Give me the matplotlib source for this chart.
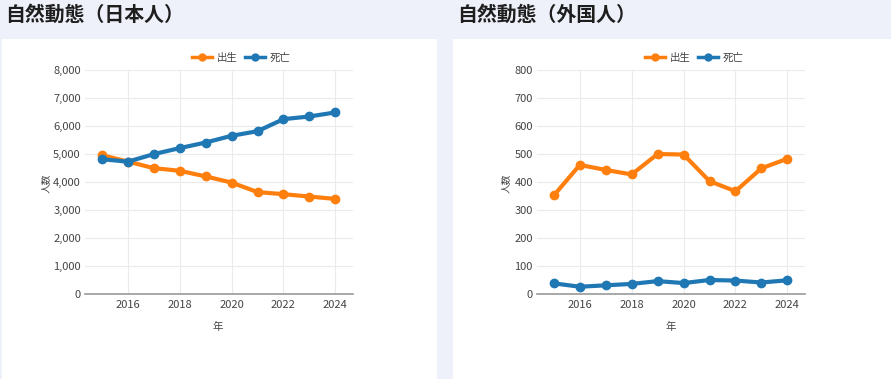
import matplotlib
matplotlib.use("Agg")
import matplotlib.pyplot as plt
from matplotlib.patches import Rectangle
from matplotlib.lines import Line2D

plt.rcParams['font.family'] = ['Noto Sans CJK JP', 'DejaVu Sans']

years = [2015, 2016, 2017, 2018, 2019, 2020, 2021, 2022, 2023, 2024]
jp_births = [4960, 4730, 4495, 4400, 4200, 3980, 3640, 3565, 3480, 3395]
jp_deaths = [4815, 4725, 4995, 5210, 5410, 5650, 5815, 6245, 6340, 6485]
fr_births = [352, 461, 443, 427, 500, 498, 403, 367, 449, 483]
fr_deaths = [38, 26, 31, 36, 46, 39, 50, 48, 41, 49]

titles = ['自然動態（日本人）', '自然動態（外国人）']
series_names = ['出生', '死亡']
xlabel = '年'
ylabel = '人数'
x_ticks = [2016, 2018, 2020, 2022, 2024]
jp_yticks = list(range(0, 8001, 1000))
fr_yticks = list(range(0, 801, 100))

ORANGE = '#ff7f0e'
BLUE = '#1f77b4'
BG = '#eef1f9'
W, H = 891, 379

fig = plt.figure(figsize=(W / 100, H / 100), dpi=100)
fig.patch.set_facecolor(BG)

def px(x, y):
    return x / W, 1 - y / H

# white panels
for (x0, x1) in [(2, 437), (453, 891)]:
    fig.patches.append(Rectangle((x0 / W, 0), (x1 - x0) / W, 1 - 39 / H,
                                 transform=fig.transFigure, facecolor='white',
                                 edgecolor='none', zorder=-5))

panels = [
    dict(title=titles[0], tx=5, ax=(85, 353), b=jp_births, d=jp_deaths,
         yt=jp_yticks, ymax=8000, fmt=lambda v: f'{v:,}', leg=241, ylx=46, xlx=218),
    dict(title=titles[1], tx=457, ax=(537, 805), b=fr_births, d=fr_deaths,
         yt=fr_yticks, ymax=800, fmt=lambda v: f'{v}', leg=694, ylx=506, xlx=671),
]

for p in panels:
    fig.text(p['tx'] / W, 1 - 14.5 / H, p['title'], fontsize=14.3, fontweight='bold',
             color='#1e1e1e', ha='left', va='center')
    x0, x1 = p['ax']
    ax = fig.add_axes([x0 / W, (H - 294) / H, (x1 - x0) / W, (294 - 70) / H])
    ax.set_zorder(2)
    ax.patch.set_alpha(0)
    ax.set_xlim(2014.35, 2024.68)
    ax.set_ylim(0, p['ymax'])
    ax.set_xticks(x_ticks)
    ax.set_xticklabels([str(t) for t in x_ticks])
    ax.set_yticks(p['yt'])
    ax.set_yticklabels([p['fmt'](v) for v in p['yt']])
    ax.grid(True, color='#ebebeb', linewidth=0.8)
    ax.set_axisbelow(True)
    for s in ['top', 'right', 'left']:
        ax.spines[s].set_visible(False)
    ax.spines['bottom'].set_color('#9a9a9a')
    ax.spines['bottom'].set_linewidth(1.2)
    ax.tick_params(axis='both', length=0, labelsize=8, colors='#444444')
    ax.tick_params(axis='x', pad=4)
    ax.tick_params(axis='y', pad=3)
    ax.plot(years, p['b'], color=ORANGE, linewidth=3, marker='o',
            markersize=6, zorder=3, clip_on=False)
    ax.plot(years, p['d'], color=BLUE, linewidth=3, marker='o',
            markersize=6, zorder=4, clip_on=False)
    h1 = Line2D([], [], color=ORANGE, linewidth=2.5, marker='o', markersize=5)
    h2 = Line2D([], [], color=BLUE, linewidth=2.5, marker='o', markersize=5)
    fig.legend(handles=[h1, h2], labels=series_names, loc='center',
               bbox_to_anchor=px(p['leg'], 58),
               ncol=2, frameon=False, fontsize=7.5, handlelength=2.0,
               columnspacing=0.7, handletextpad=0.4, labelcolor='#444444')
    fig.text(p['ylx'] / W, 1 - 183 / H, ylabel, rotation=90, fontsize=7,
             color='#444444', ha='center', va='center')
    fig.text(p['xlx'] / W, 1 - 327 / H, xlabel, fontsize=7.5,
             color='#444444', ha='center', va='center')

fig.savefig('out.png', dpi=100, facecolor=BG)
